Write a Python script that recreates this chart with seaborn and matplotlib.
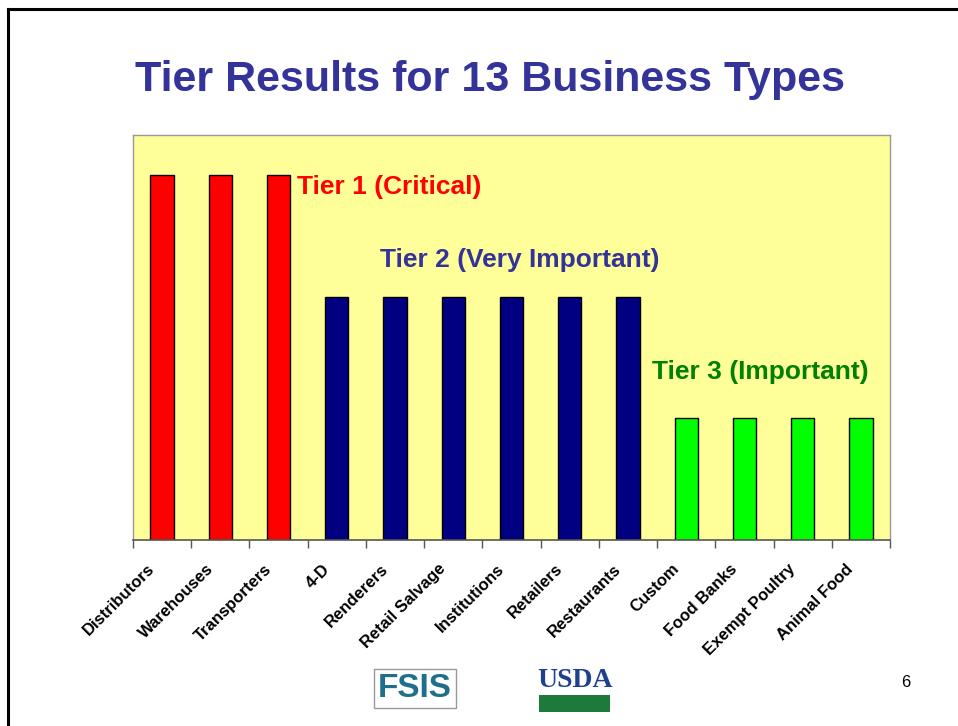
import pandas as pd
import seaborn as sns
from matplotlib import pyplot as plt
from matplotlib.lines import Line2D
from matplotlib.patches import Rectangle
from matplotlib.transforms import ScaledTranslation

BUSINESS_TYPES = [
    'Distributors', 'Warehouses', 'Transporters', '4-D', 'Renderers',
    'Retail Salvage', 'Institutions', 'Retailers', 'Restaurants',
    'Custom', 'Food Banks', 'Exempt Poultry', 'Animal Food'
]
TIER_SCORE = [3, 3, 3, 2, 2, 2, 2, 2, 2, 1, 1, 1, 1]
TIER_NAME = ['Tier 1'] * 3 + ['Tier 2'] * 6 + ['Tier 3'] * 4
TIER_LABELS = ['Tier 1 (Critical)', 'Tier 2 (Very Important)', 'Tier 3 (Important)']
TIER_COLORS = {'Tier 1': '#FF0000', 'Tier 2': '#000080', 'Tier 3': '#00FF00'}
LABEL_COLORS = ['#FF0000', '#333399', '#008000']

df = pd.DataFrame({'business': BUSINESS_TYPES, 'score': TIER_SCORE, 'tier': TIER_NAME})

plt.rcParams['font.family'] = ['Liberation Sans', 'DejaVu Sans']

fig = plt.figure(figsize=(9.58, 7.26), dpi=100)
ax = fig.add_axes([0.1388, 0.256, 0.7902, 0.558])

sns.barplot(data=df, x='business', y='score', hue='tier', palette=TIER_COLORS,
            saturation=1, dodge=False, width=0.4, edgecolor='black', linewidth=1,
            legend=False, ax=ax)

ax.set_facecolor('#FFFF99')
ax.set_xlim(-0.5, len(BUSINESS_TYPES) - 0.5)
ax.set_ylim(0, 3.33)
ax.set_xlabel('')
ax.set_ylabel('')
ax.set_yticks([])

# ticks sit on category boundaries, labels on category centres
ax.set_xticks([i - 0.5 for i in range(len(BUSINESS_TYPES) + 1)], minor=False)
ax.set_xticklabels([])
ax.tick_params(axis='x', which='major', length=6, width=1, color='#555555', direction='out')
ax.set_xticks(range(len(BUSINESS_TYPES)), minor=True)
ax.set_xticklabels(BUSINESS_TYPES, minor=True, rotation=45, ha='right',
                   rotation_mode='anchor', fontsize=12, fontweight='bold')
ax.tick_params(axis='x', which='minor', length=0, pad=8)
shift = ScaledTranslation(-0.15, -0.10, fig.dpi_scale_trans)
for lab in ax.get_xticklabels(minor=True):
    lab.set_transform(lab.get_transform() + shift)

for side in ['top', 'right', 'left']:
    ax.spines[side].set_color('#999999')
    ax.spines[side].set_linewidth(1)
ax.spines['bottom'].set_color('#555555')
ax.spines['bottom'].set_linewidth(1.2)

# tier annotations
tier_pos = [(2.32, 2.905), (3.74, 2.30), (8.41, 1.38)]
for (x, y), label, color in zip(tier_pos, TIER_LABELS, LABEL_COLORS):
    ax.text(x, y, label, color=color, fontsize=19, fontweight='bold', ha='left', va='center')

fig.text(0.511, 0.89, 'Tier Results for 13 Business Types', ha='center', va='center',
         fontsize=31, fontweight='bold', color='#333399')

# slide border
fig.add_artist(Line2D([0.0085, 0.0085], [0, 0.988], color='black', linewidth=2.2))
fig.add_artist(Line2D([0.0085, 1.0], [0.988, 0.988], color='black', linewidth=2.2))

# logos (approximated)
fig.text(0.433, 0.051, 'FSIS', ha='center', va='center', fontsize=24, fontweight='bold',
         color='#1f6f8b', bbox=dict(facecolor='white', edgecolor='#999999',
                                    boxstyle='square,pad=0.12'))
fig.text(0.6, 0.063, 'USDA', ha='center', va='center', fontsize=20, fontweight='bold',
         color='#1f3f8f', family=['Liberation Serif', 'DejaVu Serif'])
fig.add_artist(Rectangle((0.563, 0.019), 0.074, 0.024, transform=fig.transFigure,
                         facecolor='#1e7a3a', edgecolor='none'))

fig.text(0.945, 0.06, '6', ha='center', va='center', fontsize=12)

fig.savefig('out.png', dpi=100)
